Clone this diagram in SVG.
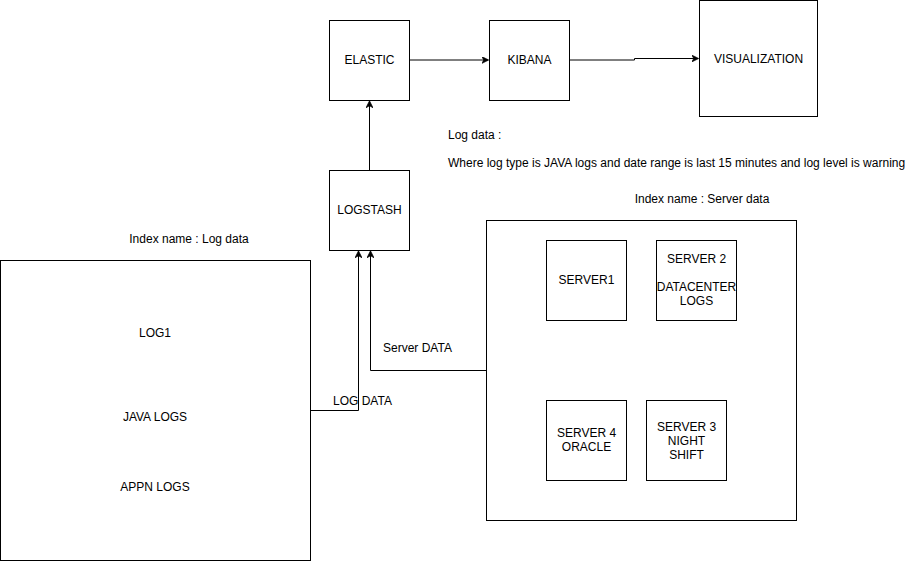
<svg xmlns="http://www.w3.org/2000/svg" width="917" height="561" viewBox="0 0 917 561">
<defs>
<style>
.box{fill:#fff;stroke:#000;stroke-width:1}
.t{font-family:"Liberation Sans",Arial,sans-serif;font-size:12px;fill:#000}
.c{text-anchor:middle}
.edge{fill:none;stroke:#000;stroke-width:1}
</style>
<marker id="arr" viewBox="0 0 10 10" refX="9" refY="5" markerWidth="7" markerHeight="7" orient="auto" markerUnits="userSpaceOnUse">
<path d="M0,0 L10,5 L0,10 L3,5 Z" fill="#000" stroke="#000" stroke-width="1"/>
</marker>
</defs>
<rect width="917" height="561" fill="#fff"/>

<g id="connectors">
<path class="edge" d="M409.5 60 L488 60" marker-end="url(#arr)"/>
<path class="edge" d="M569.5 60 L634.5 60 L634.5 58.5 L698 58.5" marker-end="url(#arr)"/>
<path class="edge" d="M369.5 170 L369.5 101.5" marker-end="url(#arr)"/>
<path class="edge" d="M310.5 410.5 L358.5 410.5 L358.5 251.5" marker-end="url(#arr)"/>
<path class="edge" d="M486.5 370.5 L370.5 370.5 L370.5 251.5" marker-end="url(#arr)"/>
<text class="t" x="333" y="405">LOG DATA</text>
<text class="t" x="383" y="352">Server DATA</text>
</g>

<g id="elastic">
<rect class="box" x="329.5" y="20.5" width="80" height="80"/>
<text class="t c" x="369.5" y="64">ELASTIC</text>
</g>
<g id="kibana">
<rect class="box" x="489.5" y="20.5" width="80" height="80"/>
<text class="t c" x="529.5" y="64">KIBANA</text>
</g>
<g id="visualization">
<rect class="box" x="699.5" y="0.5" width="118" height="116"/>
<text class="t c" x="758.5" y="63">VISUALIZATION</text>
</g>
<g id="logstash">
<rect class="box" x="329.5" y="170.5" width="80" height="80"/>
<text class="t c" x="369.5" y="214">LOGSTASH</text>
</g>

<g id="logdata-note">
<text class="t" x="448" y="139">Log data :</text>
<text class="t" x="448" y="167">Where log type is JAVA logs and date range is last 15 minutes and log level is warning</text>
</g>

<g id="log-index">
<text class="t c" x="189" y="243">Index name : Log data</text>
<rect class="box" x="0.5" y="260.5" width="310" height="300"/>
<text class="t c" x="155" y="337">LOG1</text>
<text class="t c" x="155" y="421">JAVA LOGS</text>
<text class="t c" x="155" y="491">APPN LOGS</text>
</g>

<g id="server-index">
<text class="t c" x="702" y="203">Index name : Server data</text>
<rect class="box" x="486.5" y="220.5" width="310" height="300"/>
</g>
<g id="server1">
<rect class="box" x="546.5" y="240.5" width="80" height="80"/>
<text class="t c" x="586.5" y="284">SERVER1</text>
</g>
<g id="server2">
<rect class="box" x="656.5" y="240.5" width="80" height="80"/>
<text class="t c" x="696.5" y="263">SERVER 2</text>
<text class="t c" x="696.5" y="291">DATACENTER</text>
<text class="t c" x="696.5" y="305">LOGS</text>
</g>
<g id="server4">
<rect class="box" x="546.5" y="400.5" width="80" height="80"/>
<text class="t c" x="586.5" y="437">SERVER 4</text>
<text class="t c" x="586.5" y="451">ORACLE</text>
</g>
<g id="server3">
<rect class="box" x="646.5" y="400.5" width="80" height="80"/>
<text class="t c" x="686.5" y="431">SERVER 3</text>
<text class="t c" x="686.5" y="445">NIGHT</text>
<text class="t c" x="686.5" y="459">SHIFT</text>
</g>
</svg>
